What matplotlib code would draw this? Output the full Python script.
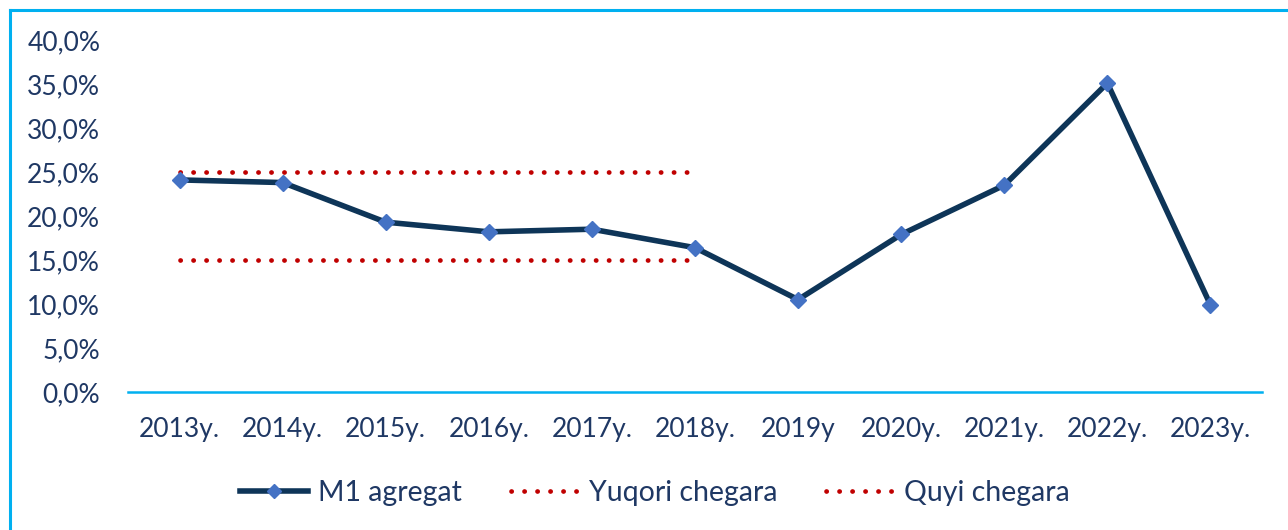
import matplotlib.pyplot as plt
from matplotlib.lines import Line2D

years = ["2013y.", "2014y.", "2015y.", "2016y.", "2017y.", "2018y.", "2019y",
         "2020y.", "2021y.", "2022y.", "2023y."]
m1 = [24.1, 23.8, 19.3, 18.2, 18.5, 16.4, 10.5, 17.9, 23.5, 35.1, 9.9]
upper = [25, 25, 25, 25, 25, 25]
lower = [15, 15, 15, 15, 15, 15]

navy = "#0E3558"
txt = "#1F3864"
red = "#C00000"
cyan = "#00B0F0"
fs = 19

plt.rcParams['font.family'] = ['Lato', 'DejaVu Sans']

fig = plt.figure(figsize=(12.88, 5.30), dpi=100)
ax = fig.add_axes([128 / 1288, 1 - 392 / 530, (1262 - 128) / 1288, (392 - 40) / 530])

x = list(range(len(years)))
dots = (0, (0.05, 2.7))
ax.plot(x[:len(upper)], upper, color=red, lw=3.4, linestyle=dots,
        dash_capstyle="round", label="Yuqori chegara")
ax.plot(x[:len(lower)], lower, color=red, lw=3.4, linestyle=dots,
        dash_capstyle="round", label="Quyi chegara")
ax.plot(x, m1, color=navy, lw=4.0, marker="D", markersize=8,
        markerfacecolor="#4472C4", markeredgecolor="#4472C4",
        solid_joinstyle="round", label="M1 agregat")

ax.set_xlim(-0.5, len(years) - 0.5)
ax.set_ylim(0, 40)
ax.set_yticks(range(0, 41, 5))
ax.set_yticklabels([f"{v},0%" for v in range(0, 41, 5)])
ax.set_xticks(x)
ax.set_xticklabels(years)
ax.tick_params(length=0, labelsize=fs, colors=txt)
ax.tick_params(axis="y", pad=20)
ax.tick_params(axis="x", pad=18)
for s in ["top", "right", "left"]:
    ax.spines[s].set_visible(False)
ax.spines["bottom"].set_color(cyan)
ax.spines["bottom"].set_linewidth(1.8)

handles = [
    Line2D([], [], color=navy, lw=4.0, marker="D", markersize=7,
           markerfacecolor="#4472C4", markeredgecolor="#4472C4"),
    Line2D([], [], color=red, lw=3.4, linestyle=dots, dash_capstyle="round"),
    Line2D([], [], color=red, lw=3.4, linestyle=dots, dash_capstyle="round"),
]
fig.legend(handles, ["M1 agregat", "Yuqori chegara", "Quyi chegara"],
           loc="center", bbox_to_anchor=(655 / 1288, 1 - 493 / 530), ncol=3,
           frameon=False, fontsize=20.5, labelcolor=txt, handlelength=2.4,
           handletextpad=0.35, columnspacing=1.7)

# outer frame (left and top edges visible)
fig.add_artist(Line2D([10 / 1288, 10 / 1288], [0, 1 - 10 / 530], color=cyan, lw=2.2,
                      transform=fig.transFigure))
fig.add_artist(Line2D([10 / 1288, 1], [1 - 10 / 530, 1 - 10 / 530], color=cyan, lw=2.2,
                      transform=fig.transFigure))

fig.savefig("out.png", dpi=100)
